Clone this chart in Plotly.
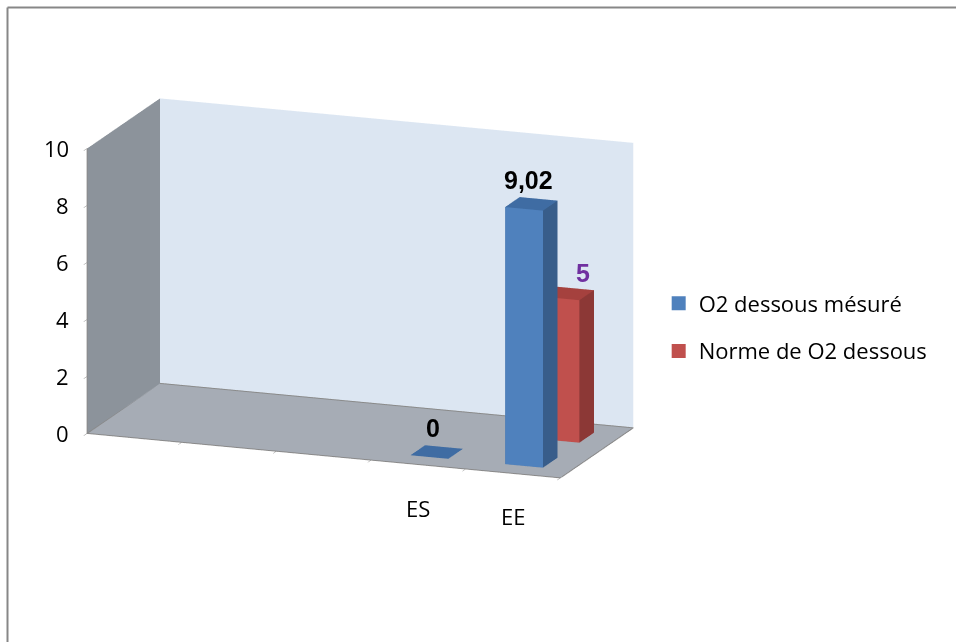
import plotly.graph_objects as go

# Categories along the front axis (first three slots are unlabeled)
categories = ["", "", "", "ES", "EE"]
# Series values (None = no bar)
measured = [None, None, None, 0, 9.02]      # O2 dessous mésuré
norm_vals = [None, None, None, None, 5]     # Norme de O2 dessous
series_names = ["O2 dessous mésuré", "Norme de O2 dessous"]
z_ticks = [0, 2, 4, 6, 8, 10]

# face colours: front, side, top
BLUE = {"front": "#4f81bd", "side": "#385d8a", "top": "#3f6ca3", "legend": "#4f81bd"}
RED = {"front": "#c0504d", "side": "#8c3836", "top": "#a5413e", "legend": "#c0504d"}

BAR_W = 0.4   # fraction of a category slot
BAR_D = 0.4   # fraction of a series row

TEXT_FONT = "Open Sans"


def box_mesh(xc, yc, h, pal, name):
    xs, ys, zs = [], [], []
    for iz in (0, 1):
        for iy in (0, 1):
            for ix in (0, 1):
                xs.append(xc - BAR_W / 2 + ix * BAR_W)
                ys.append(yc - BAR_D / 2 + iy * BAR_D)
                zs.append(iz * h)
    faces = [
        ((0, 1, 5), "front"), ((0, 5, 4), "front"),
        ((2, 3, 7), "side"), ((2, 7, 6), "side"),
        ((0, 2, 6), "side"), ((0, 6, 4), "side"),
        ((1, 3, 7), "side"), ((1, 7, 5), "side"),
        ((0, 1, 3), "top"), ((0, 3, 2), "top"),
        ((4, 5, 7), "top"), ((4, 7, 6), "top"),
    ]
    return go.Mesh3d(
        x=xs, y=ys, z=zs,
        i=[f[0][0] for f in faces], j=[f[0][1] for f in faces], k=[f[0][2] for f in faces],
        facecolor=[pal[f[1]] for f in faces],
        flatshading=True,
        lighting=dict(ambient=1, diffuse=0, specular=0, fresnel=0, roughness=1),
        hoverinfo="skip", showlegend=False, name=name,
    )


n_cat = len(categories)
x_lo, x_hi = 0.5, n_cat + 0.5
y_lo, y_hi = 0.0, 2.0
z_lo, z_hi = z_ticks[0], z_ticks[-1]

fig = go.Figure()
annotations = []
# (values, palette, row centre, label colour, label x/y offsets, name)
rows = [(measured, BLUE, 0.5, "#000000", (4, 13), series_names[0]),
        (norm_vals, RED, 1.5, "#7030a0", (23, 9), series_names[1])]
for vals, pal, yc, lab_col, (dx, dy), nm in rows:
    for ci, v in enumerate(vals):
        if v is None:
            continue
        xc = ci + 1
        fig.add_trace(box_mesh(xc, yc, v, pal, nm))
        annotations.append(dict(
            x=xc, y=yc - BAR_D / 2, z=v,
            text="<b>" + ("%g" % v).replace(".", ",") + "</b>",
            showarrow=False, yanchor="bottom", yshift=dy, xshift=dx,
            font=dict(family="Liberation Sans", size=25, color=lab_col),
        ))

# category labels under the front edge
for ci, c in enumerate(categories):
    if c:
        annotations.append(dict(
            x=ci + 1, y=y_lo, z=z_lo, text=c, showarrow=False,
            yanchor="top", yshift=-26,
            font=dict(family=TEXT_FONT, size=22, color="#000000"),
        ))

# value-axis labels beside the front-left edge
for t in z_ticks:
    annotations.append(dict(
        x=x_lo, y=y_lo, z=t, text=str(t), showarrow=False,
        xanchor="right", xshift=-16,
        font=dict(family=TEXT_FONT, size=22, color="#000000"),
    ))

# outline of the floor and wall junctions
edge_col = "#8a8a8a"
ex = [x_lo, x_hi, x_hi, x_lo, x_lo, None, x_lo, x_lo]
ey = [y_lo, y_lo, y_hi, y_hi, y_lo, None, y_lo, y_lo]
ez = [z_lo, z_lo, z_lo, z_lo, z_lo, None, z_lo, z_hi]
fig.add_trace(go.Scatter3d(x=ex, y=ey, z=ez, mode="lines",
                           line=dict(color=edge_col, width=2),
                           hoverinfo="skip", showlegend=False))

# legend entries
for nm, pal in zip(series_names, (BLUE, RED)):
    fig.add_trace(go.Scatter3d(x=[None], y=[None], z=[None], mode="markers", name=nm,
                               legendgroup=nm,
                               marker=dict(symbol="square", size=14, color=pal["legend"])))

axis_common = dict(showgrid=False, zeroline=False, showspikes=False,
                   title=dict(text=""), showbackground=True)

# camera: view from front-right, slightly above
view_dir = (0.3355, -0.907, 0.254)
view_dist = 2.0
look_at = (0.353, 0.103, -0.099)
eye = {k: look_at[i] + view_dist * view_dir[i] for i, k in enumerate("xyz")}

fig.update_layout(
    width=956, height=642,
    margin=dict(l=0, r=0, t=0, b=0),
    paper_bgcolor="white",
    showlegend=True,
    legend=dict(x=0.689, y=0.56, xanchor="left", yanchor="top",
                font=dict(family=TEXT_FONT, size=22, color="#000000"),
                tracegroupgap=16, bgcolor="rgba(0,0,0,0)"),
    scene=dict(
        domain=dict(x=[0, 1], y=[0, 1]),
        xaxis=dict(axis_common, range=[x_lo, x_hi],
                   tickvals=[c + 0.5 for c in range(n_cat + 1)],
                   ticktext=[""] * (n_cat + 1),
                   ticks="outside", ticklen=10, tickcolor=edge_col,
                   showline=True, linecolor=edge_col, linewidth=2,
                   backgroundcolor="#8c939b"),
        yaxis=dict(axis_common, range=[y_lo, y_hi], showticklabels=False, ticks="",
                   showline=False, backgroundcolor="#dce6f2"),
        zaxis=dict(axis_common, range=[z_lo, z_hi], tickvals=z_ticks,
                   showticklabels=False,
                   ticks="outside", ticklen=8, tickcolor=edge_col,
                   showline=True, linecolor=edge_col, linewidth=2,
                   backgroundcolor="#a6acb5"),
        aspectmode="manual",
        aspectratio=dict(x=1.572, y=0.654, z=0.918),
        camera=dict(eye=eye,
                    center=dict(x=look_at[0], y=look_at[1], z=look_at[2]),
                    up=dict(x=0, y=0, z=1),
                    projection=dict(type="orthographic")),
        annotations=annotations,
    ),
    shapes=[
        dict(type="line", xref="paper", yref="paper", x0=7.5 / 956, x1=1, y0=1 - 7.5 / 642, y1=1 - 7.5 / 642,
             line=dict(color="#878787", width=2)),
        dict(type="line", xref="paper", yref="paper", x0=7.5 / 956, x1=7.5 / 956, y0=0, y1=1 - 7.5 / 642,
             line=dict(color="#878787", width=2)),
    ],
)

fig.write_html("out.html")
